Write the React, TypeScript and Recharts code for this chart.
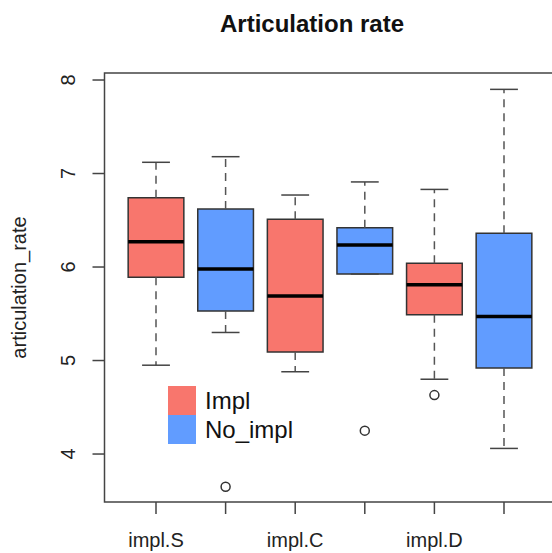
import React from "react";
import {
  ComposedChart,
  XAxis,
  YAxis,
  Scatter,
  ReferenceArea,
  ReferenceLine,
  Legend,
  Label,
} from "recharts";

// six boxes: Impl / No_impl for S, C, D
const tickLabels = ["impl.S", "", "impl.C", "", "impl.D", ""];
const groupOf = ["Impl", "No_impl", "Impl", "No_impl", "Impl", "No_impl"];
const whiskerLow = [4.95, 5.3, 4.88, 5.925, 4.8, 4.06];
const q1 = [5.89, 5.53, 5.09, 5.925, 5.49, 4.92];
const median = [6.27, 5.98, 5.69, 6.235, 5.81, 5.47];
const q3 = [6.74, 6.62, 6.51, 6.42, 6.04, 6.36];
const whiskerHigh = [7.12, 7.18, 6.77, 6.91, 6.83, 7.9];
const outliers = [
  { x: 2, y: 3.65 },
  { x: 4, y: 4.25 },
  { x: 5, y: 4.63 },
];
const yTicks = [4, 5, 6, 7, 8];
const legendItems = ["Impl", "No_impl"];

const colors: Record<string, string> = { Impl: "#F8766D", No_impl: "#619CFF" };
const font = "'Liberation Sans', Arial, Helvetica, sans-serif";
const xDomain = [0.26, 6.74];
const yDomain = [3.487, 8.075];

const YTick = (props: any) => {
  const { x, y, payload } = props;
  return (
    <text
      x={x}
      y={y}
      transform={`rotate(-90 ${x} ${y})`}
      textAnchor="middle"
      fontSize={20}
      fill="#222"
      fontFamily={font}
    >
      {payload.value}
    </text>
  );
};

const renderLegend = () => (
  <div style={{ fontFamily: font }}>
    {legendItems.map((g) => (
      <div key={g} style={{ display: "flex", alignItems: "center", height: 29 }}>
        <div style={{ width: 28, height: 29, background: colors[g] }} />
        <span style={{ fontSize: 24, marginLeft: 9, color: "#111" }}>{g}</span>
      </div>
    ))}
  </div>
);

export default function App() {
  const boxes = q1.map((_, i) => i + 1);
  return (
    <div style={{ position: "fixed", left: 0, top: 0, width: 552, height: 553, overflow: "hidden", background: "#fff" }}>
      <ComposedChart width={560} height={553} margin={{ top: 73, right: 4.5, bottom: 0, left: 0 }}>
        <XAxis
          type="number"
          dataKey="x"
          domain={xDomain}
          allowDataOverflow
          ticks={[1, 2, 3, 4, 5, 6]}
          tickFormatter={(v: number) => tickLabels[v - 1]}
          interval={0}
          height={51}
          tickSize={12}
          tickMargin={19}
          axisLine={false}
          tickLine={{ stroke: "#444", strokeWidth: 1.5 }}
          tick={{ fontSize: 20, fill: "#222", fontFamily: font }}
        />
        <YAxis
          type="number"
          dataKey="y"
          domain={yDomain}
          allowDataOverflow
          ticks={yTicks}
          width={104.5}
          tickSize={12}
          tickMargin={17}
          axisLine={false}
          tickLine={{ stroke: "#444", strokeWidth: 1.5 }}
          tick={<YTick />}
        >
          <Label
            content={({ viewBox }: any) => {
              const cy = viewBox.y + viewBox.height / 2;
              return (
                <text
                  x={26}
                  y={cy}
                  transform={`rotate(-90 26 ${cy})`}
                  textAnchor="middle"
                  fontSize={20}
                  fill="#222"
                  fontFamily={font}
                >
                  articulation_rate
                </text>
              );
            }}
          />
        </YAxis>

        {boxes.map((pos, i) => (
          <ReferenceLine
            key={`wh${pos}`}
            segment={[{ x: pos, y: q3[i] }, { x: pos, y: whiskerHigh[i] }]}
            stroke="#555"
            strokeWidth={1.5}
            strokeDasharray="8 6"
            ifOverflow="visible"
          />
        ))}
        {boxes.map((pos, i) => (
          <ReferenceLine
            key={`wl${pos}`}
            segment={[{ x: pos, y: q1[i] }, { x: pos, y: whiskerLow[i] }]}
            stroke="#555"
            strokeWidth={1.5}
            strokeDasharray="8 6"
            ifOverflow="visible"
          />
        ))}
        {boxes.map((pos, i) => (
          <ReferenceLine
            key={`sh${pos}`}
            segment={[{ x: pos - 0.2, y: whiskerHigh[i] }, { x: pos + 0.2, y: whiskerHigh[i] }]}
            stroke="#444"
            strokeWidth={1.5}
            ifOverflow="visible"
          />
        ))}
        {boxes.map((pos, i) => (
          <ReferenceLine
            key={`sl${pos}`}
            segment={[{ x: pos - 0.2, y: whiskerLow[i] }, { x: pos + 0.2, y: whiskerLow[i] }]}
            stroke="#444"
            strokeWidth={1.5}
            ifOverflow="visible"
          />
        ))}
        {boxes.map((pos, i) => (
          <ReferenceArea
            key={`box${pos}`}
            x1={pos - 0.4}
            x2={pos + 0.4}
            y1={q1[i]}
            y2={q3[i]}
            fill={colors[groupOf[i]]}
            fillOpacity={1}
            stroke="#333"
            strokeWidth={1.5}
            ifOverflow="visible"
          />
        ))}
        {boxes.map((pos, i) => (
          <ReferenceLine
            key={`med${pos}`}
            segment={[{ x: pos - 0.4, y: median[i] }, { x: pos + 0.4, y: median[i] }]}
            stroke="#000"
            strokeWidth={3.5}
            ifOverflow="visible"
          />
        ))}
        <ReferenceArea
          x1={xDomain[0]}
          x2={xDomain[1]}
          y1={yDomain[0]}
          y2={yDomain[1]}
          fill="none"
          fillOpacity={0}
          stroke="#444"
          strokeWidth={1.5}
          ifOverflow="visible"
        />
        <Scatter
          data={outliers}
          isAnimationActive={false}
          legendType="none"
          shape={(p: any) => <circle cx={p.cx} cy={p.cy} r={4.5} fill="none" stroke="#333" strokeWidth={1.5} />}
        />
        <Legend
          layout="vertical"
          align="center"
          verticalAlign="middle"
          content={renderLegend}
          wrapperStyle={{ position: "absolute", left: 168, top: 386, width: 200, height: 60 }}
        />
      </ComposedChart>
      <svg width={552} height={60} style={{ position: "absolute", left: 0, top: 0, pointerEvents: "none" }}>
        <text x={312} y={32} textAnchor="middle" fontSize={24} fontWeight="bold" fill="#111" fontFamily={font}>
          Articulation rate
        </text>
      </svg>
    </div>
  );
}
